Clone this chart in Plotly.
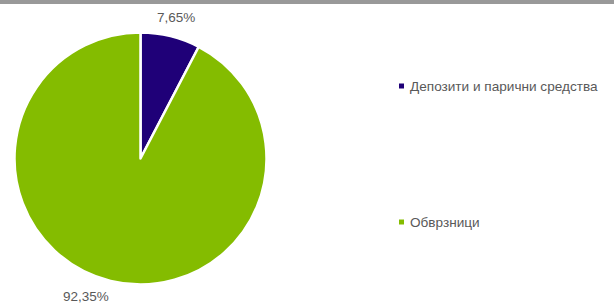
import plotly.graph_objects as go

categories = ["Депозити и парични средства", "Обврзници"]
values = [7.65, 92.35]
colors = ["#1F0078", "#84BC00"]

W, H = 614, 304
font_family = "Liberation Sans Narrow, Arial Narrow, Liberation Sans, Arial, sans-serif"
text_color = "#595959"

fig = go.Figure()
fig.add_trace(go.Pie(
    labels=categories,
    values=values,
    sort=False,
    direction="clockwise",
    rotation=0,
    marker=dict(colors=colors, line=dict(color="white", width=2.5)),
    textinfo="none",
    hoverinfo="label+percent",
    showlegend=False,
    domain=dict(x=[14.5 / W, 266.5 / W], y=[19.5 / H, 271.5 / H]),
))

def fmt(v):
    return f"{v:.2f}".replace(".", ",") + "%"

# percent labels
label_pos = [(176, 17), (86, 296)]
for v, (px, py) in zip(values, label_pos):
    fig.add_annotation(x=px / W, y=1 - py / H, xref="paper", yref="paper",
                       text=fmt(v), showarrow=False, xanchor="center", yanchor="middle",
                       font=dict(family=font_family, size=13.5, color=text_color))

# legend entries
legend_y = [86, 222]
for name, c, ly in zip(categories, colors, legend_y):
    fig.add_shape(type="rect", xref="paper", yref="paper",
                  x0=399 / W, x1=404 / W, y0=1 - (ly + 2.5) / H, y1=1 - (ly - 2.5) / H,
                  fillcolor=c, line=dict(width=0))
    fig.add_annotation(x=408 / W, y=1 - ly / H, xref="paper", yref="paper",
                       text=name, showarrow=False, xanchor="left", yanchor="middle",
                       font=dict(family=font_family, size=13.6, color=text_color))

# top gray stripe
fig.add_shape(type="rect", xref="paper", yref="paper", x0=0, x1=1,
              y0=1 - 4 / H, y1=1, fillcolor="#999999", line=dict(width=0))

fig.update_layout(
    width=W, height=H,
    margin=dict(l=0, r=0, t=0, b=0),
    paper_bgcolor="white", plot_bgcolor="white",
)

fig.write_html("out.html", config={"displayModeBar": False},
               post_script="document.body.style.margin='0';document.body.style.overflow='hidden';")
